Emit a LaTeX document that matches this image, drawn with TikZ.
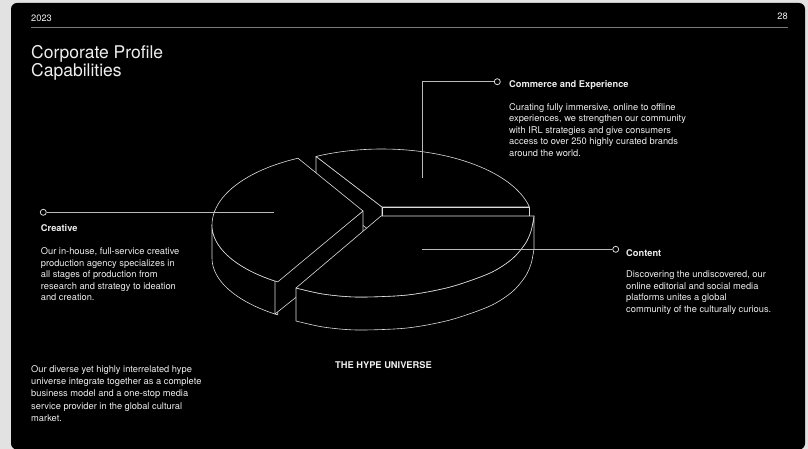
\documentclass[tikz,border=0pt]{standalone}
\usepackage{fontspec}
\setmainfont{TeX Gyre Heros}
\usetikzlibrary{positioning}
\definecolor{pagegrey}{HTML}{E2E2E2}
\definecolor{ink}{HTML}{EEEEEE}
\definecolor{wire}{HTML}{DCDCDC}
\definecolor{rulec}{HTML}{7A7A7A}

\begin{document}
\begin{tikzpicture}[x=1pt,y=-1pt,font=\fontsize{9.3}{11.5}\selectfont,
    pie/.style={fill=black,draw=wire,line width=0.6pt,line join=round},
    lead/.style={draw=wire!85!black,line width=0.55pt},
    dot/.style={circle,draw=wire,fill=black,line width=0.8pt,inner sep=0pt,minimum size=6pt},
    txt/.style={text=ink,inner sep=0pt,align=left,anchor=north west},
    hd/.style={text=ink,inner sep=0pt,anchor=base west,font=\fontsize{9.3}{11.5}\selectfont\bfseries}]
  \useasboundingbox (0,0) rectangle (808,449);
  \fill[pagegrey] (0,0) rectangle (808,449);
  \fill[black,rounded corners=6pt] (11,3) rectangle (805,449.5);
  % header
  \node[text=ink,inner sep=0pt,anchor=base west] (year) at (31,22) {2023};
  \node[text=ink,inner sep=0pt,anchor=base east] (pageno) at (788,19.5) {28};
  \draw[rulec,line width=0.6pt] (31,27.3) -- (788,27.3);
  \node[txt,font=\fontsize{17.5}{18}\selectfont] (title) at (31,45.7) {Corporate Profile\\Capabilities};
  % commerce slice
  \draw[pie] (382,207) -- (316,156.4) -- (316,189.4) -- (382,240) -- cycle;
  \draw[pie] (382,207) -- (529.4,207) -- (529.4,240) -- (382,240) -- cycle;
  \draw[pie] (382,207) -- plot[domain=115.9:12.5,samples=40] ({382+151*cos(\x)},{223-74*sin(\x)}) -- cycle;
  % creative slice
  \draw[pie] plot[domain=180:235.6,samples=25] ({363+151*cos(\x)},{225-69*sin(\x)})
    -- plot[domain=235.6:180,samples=25] ({363+151*cos(\x)},{258-69*sin(\x)}) -- cycle;
  \draw[pie] (363,211) -- (275,281) -- (275,314) -- (363,244) -- cycle;
  \draw[pie] (363,211) -- plot[domain=115.5:180,samples=25] ({363+151*cos(\x)},{225-74*sin(\x)})
    -- plot[domain=180:235.6,samples=25] ({363+151*cos(\x)},{225-69*sin(\x)}) -- cycle;
  % content slice
  \draw[pie] plot[smooth] coordinates {(296,288) (323,294) (357,297) (407,295) (450,287) (490,273) (512,259) (525,244) (531,231) (534,216)}
    -- plot[smooth] coordinates {(534,249) (531,264) (525,277) (512,292) (490,306) (450,320) (407,328) (357,330) (323,327) (296,321)} -- cycle;
  \draw[pie] (381,216) -- plot[smooth] coordinates {(296,288) (323,294) (357,297) (407,295) (450,287) (490,273) (512,259) (525,244) (531,231) (534,216)} -- cycle;
  % leaders
  \node[dot] (comdot) at (497.3,81.7) {};
  \coordinate (comknee) at (422,81.7);
  \coordinate (comend) at (422,178);
  \draw[lead] (comdot) -- (comknee) -- (comend);
  \node[dot] (credot) at (43.3,212.3) {};
  \coordinate (creend) at (274,212.3);
  \draw[lead] (credot) -- (creend);
  \node[dot] (condot) at (615.7,249.3) {};
  \coordinate (conend) at (422,249.3);
  \draw[lead] (conend) -- (condot);
  % labels
  \node[hd] (comhead) at (509,88) {Commerce and Experience};
  \node[txt] (combody) at (509,103.2) {Curating fully immersive, online to offline\\experiences, we strengthen our community\\with IRL strategies and give consumers\\access to over 250 highly curated brands\\around the world.};
  \node[hd] (crehead) at (40.7,231.7) {Creative};
  \node[txt] (crebody) at (40.7,247.5) {Our in-house, full-service creative\\production agency specializes in\\all stages of production from\\research and strategy to ideation\\and creation.};
  \node[hd] (conhead) at (626,256) {Content};
  \node[txt] (conbody) at (626,270.9) {Discovering the undiscovered, our\\online editorial and social media\\platforms unites a global\\community of the culturally curious.};
  \node[txt,font=\fontsize{9.3}{12.3}\selectfont] (summary) at (31,365.2) {Our diverse yet highly interrelated hype\\universe integrate together as a complete\\business model and a one-stop media\\service provider in the global cultural\\market.};
  \node[hd,anchor=base] (hypelabel) at (383.5,368.7) {THE HYPE UNIVERSE};
\end{tikzpicture}
\end{document}
